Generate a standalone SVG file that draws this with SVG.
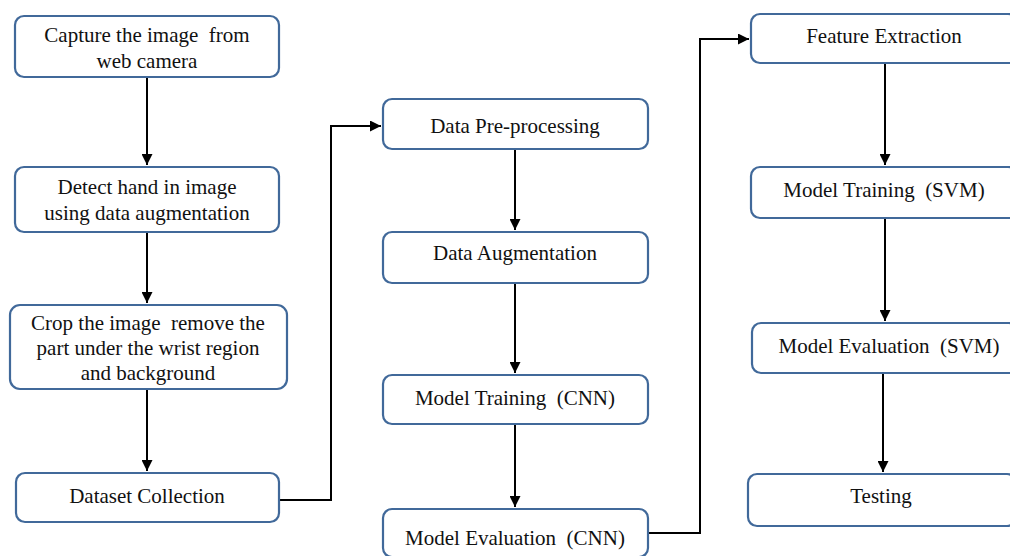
<svg xmlns="http://www.w3.org/2000/svg" width="1010" height="556" viewBox="0 0 1010 556">
<defs>
<marker id="arr" viewBox="0 0 10 10" refX="10" refY="5" markerWidth="5.5" markerHeight="5.5" orient="auto" markerUnits="strokeWidth">
<path d="M0,0 L10,5 L0,10 z" fill="#000"/>
</marker>
<style>
.box{fill:#fff;stroke:#41699a;stroke-width:2.2}
.t{font-family:"Liberation Serif","Times New Roman",serif;font-size:21px;fill:#111;text-anchor:middle;white-space:pre}
.c{fill:none;stroke:#000;stroke-width:2;marker-end:url(#arr)}
</style>
</defs>
<rect width="1010" height="556" fill="#fff"/>
<g id="connectors">
<path class="c" d="M147,77 V165"/>
<path class="c" d="M147,232 V303"/>
<path class="c" d="M147,389 V471"/>
<path class="c" d="M279,500 H331 V126 H381"/>
<path class="c" d="M515,149 V230"/>
<path class="c" d="M515,283 V373"/>
<path class="c" d="M515,424 V507"/>
<path class="c" d="M648,533 H700 V39 H749"/>
<path class="c" d="M885,63 V165"/>
<path class="c" d="M885,218 V321"/>
<path class="c" d="M883,373 V472"/>
</g>
<g id="n1"><rect class="box" x="15" y="16" width="264" height="61" rx="9"/><text class="t" x="147" y="42" xml:space="preserve">Capture the image  from</text><text class="t" x="147" y="68">web camera</text></g>
<g id="n2"><rect class="box" x="15" y="167" width="264" height="65" rx="9"/><text class="t" x="147" y="194">Detect hand in image</text><text class="t" x="147" y="220">using data augmentation</text></g>
<g id="n3"><rect class="box" x="10" y="305" width="277" height="84" rx="10"/><text class="t" x="148" y="330" xml:space="preserve">Crop the image  remove the</text><text class="t" x="148" y="355">part under the wrist region</text><text class="t" x="148" y="380">and background</text></g>
<g id="n4"><rect class="box" x="16" y="473" width="263" height="49" rx="9"/><text class="t" x="147" y="503">Dataset Collection</text></g>
<g id="n5"><rect class="box" x="383" y="99" width="265" height="50" rx="9"/><text class="t" x="515" y="133">Data Pre-processing</text></g>
<g id="n6"><rect class="box" x="383" y="232" width="265" height="51" rx="9"/><text class="t" x="515" y="260">Data Augmentation</text></g>
<g id="n7"><rect class="box" x="383" y="375" width="265" height="49" rx="9"/><text class="t" x="515" y="405" xml:space="preserve">Model Training  (CNN)</text></g>
<g id="n8"><rect class="box" x="383" y="509" width="265" height="48" rx="9"/><text class="t" x="515" y="545" xml:space="preserve">Model Evaluation  (CNN)</text></g>
<g id="n9"><rect class="box" x="751" y="14" width="266" height="49" rx="9"/><text class="t" x="884" y="43">Feature Extraction</text></g>
<g id="n10"><rect class="box" x="751" y="167" width="266" height="51" rx="9"/><text class="t" x="884" y="197" xml:space="preserve">Model Training  (SVM)</text></g>
<g id="n11"><rect class="box" x="752" y="323" width="266" height="50" rx="9"/><text class="t" x="889" y="353" xml:space="preserve">Model Evaluation  (SVM)</text></g>
<g id="n12"><rect class="box" x="748" y="474" width="268" height="52" rx="9"/><text class="t" x="881" y="503">Testing</text></g>
</svg>
